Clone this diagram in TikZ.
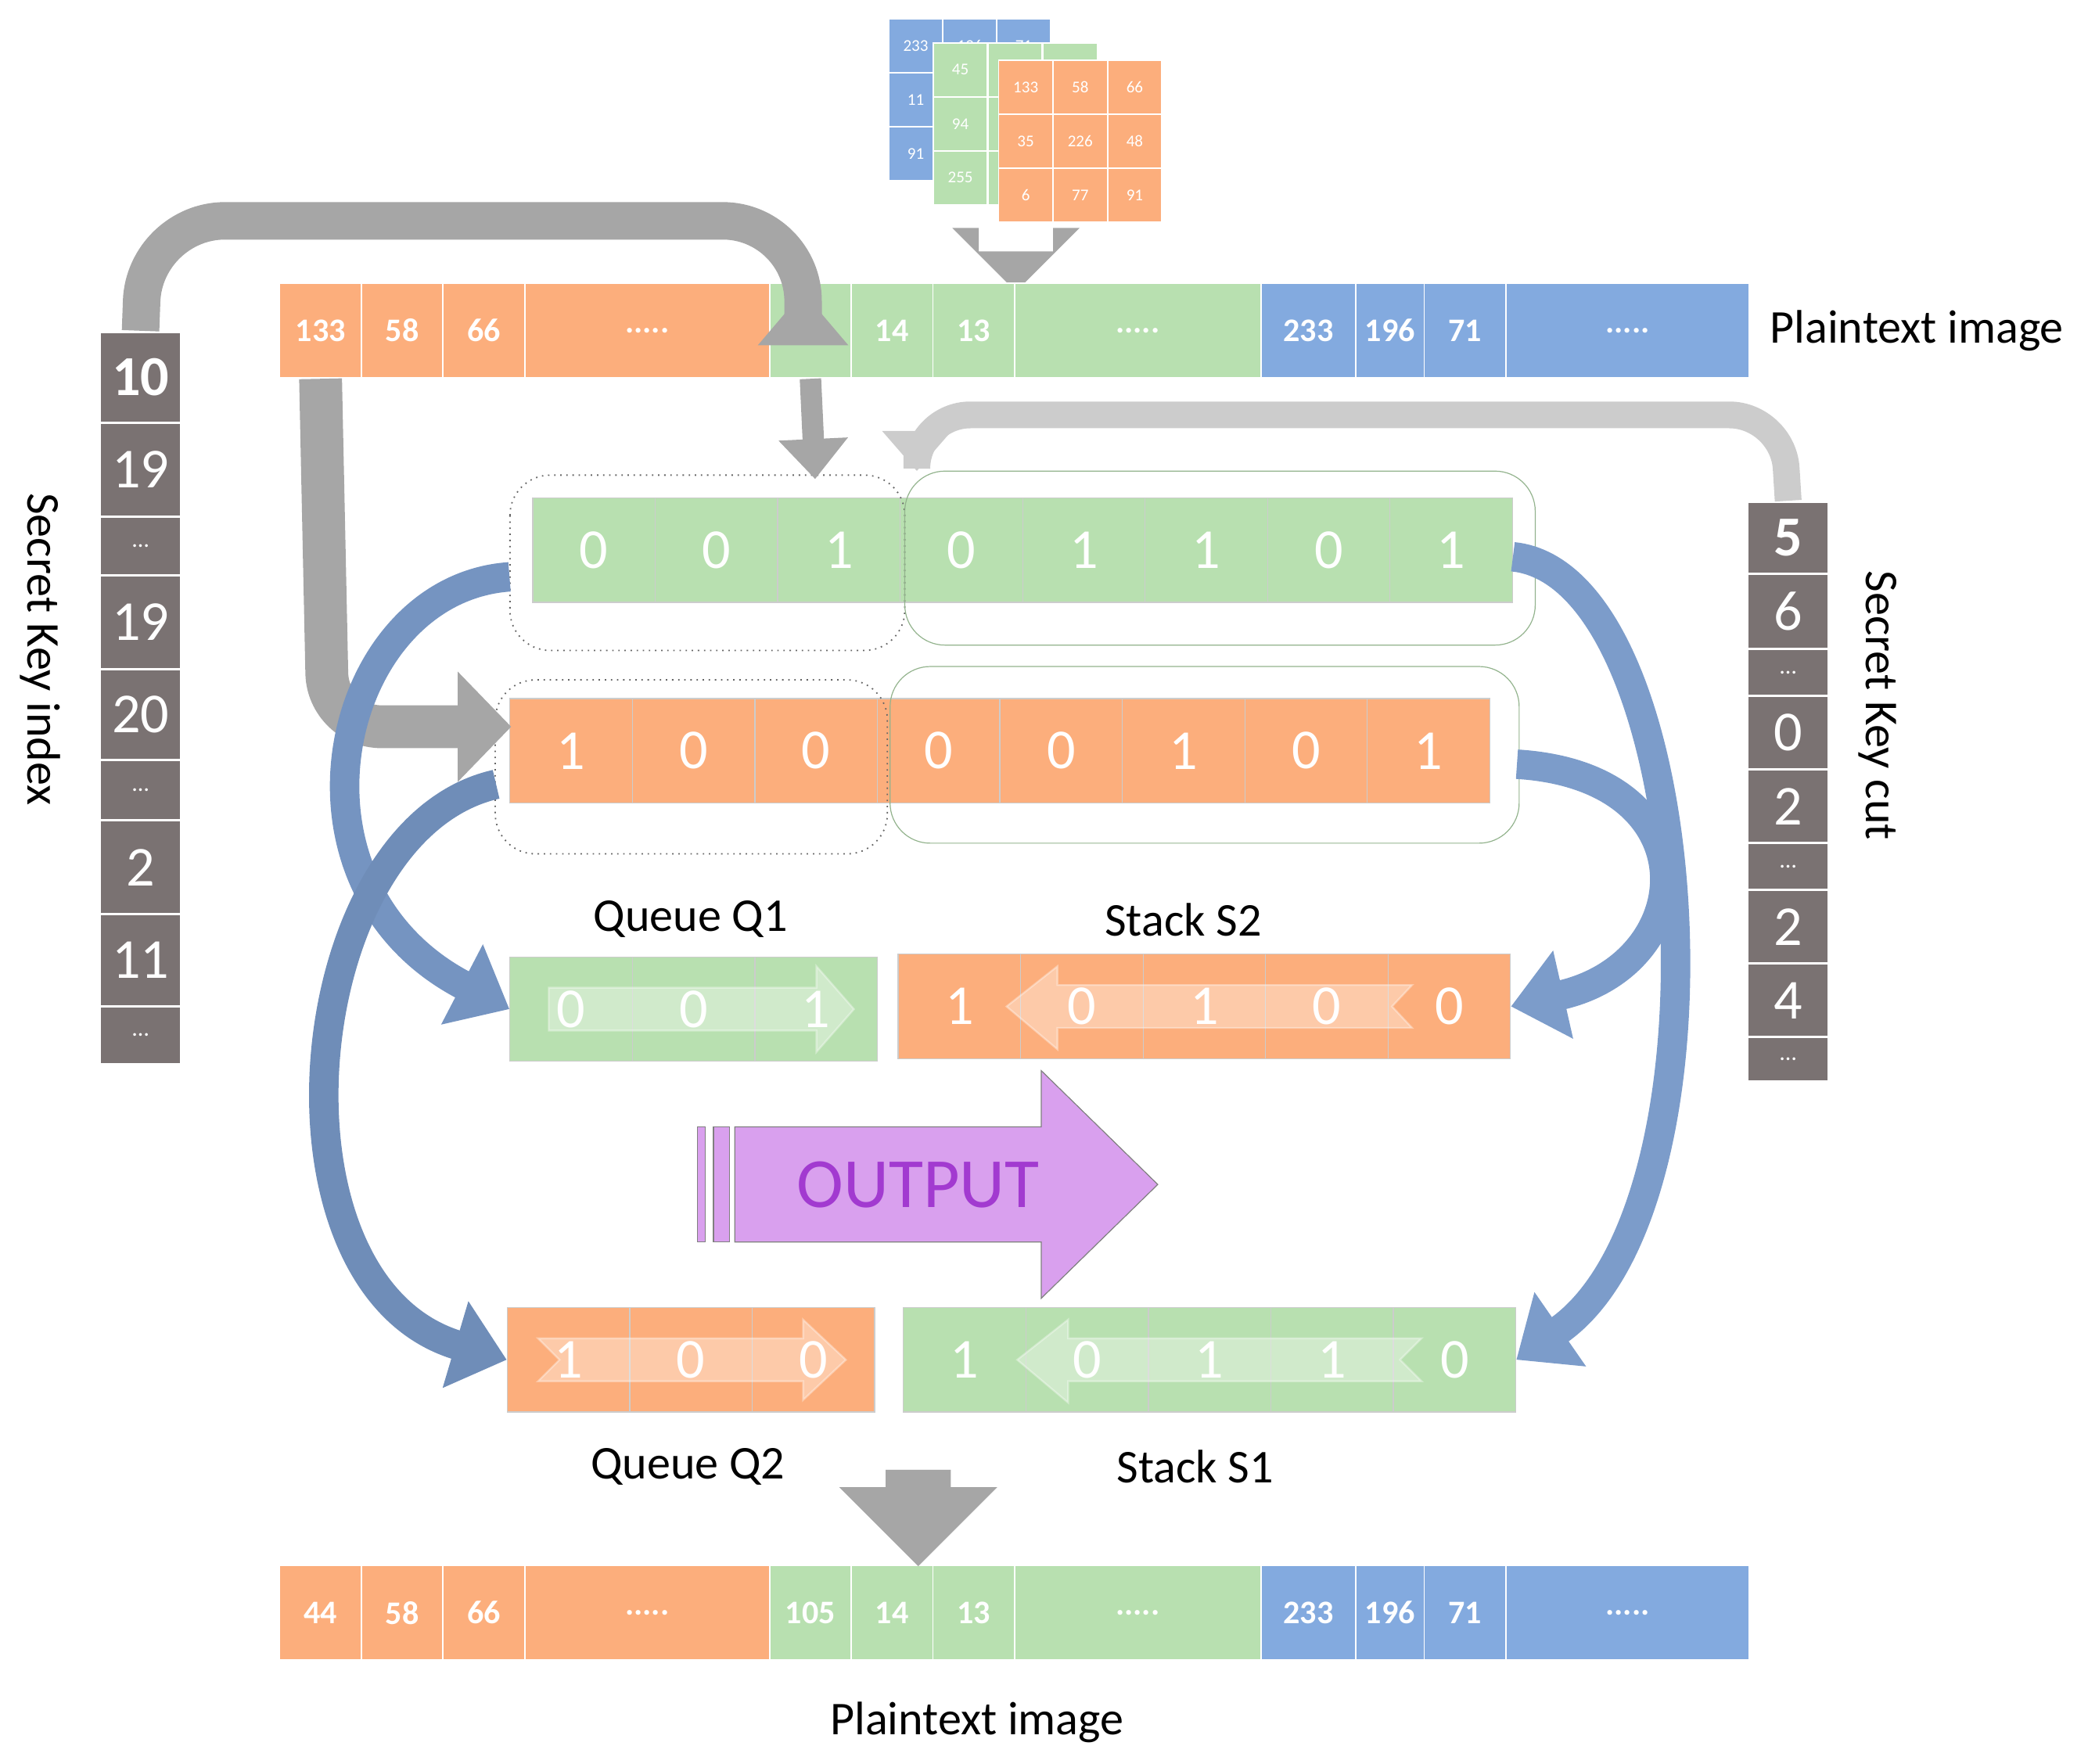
\documentclass[tikz,border=0pt]{standalone}
\usepackage{fontspec}
\setmainfont{Carlito}
\usetikzlibrary{arrows.meta, shapes.arrows}
\definecolor{org}{HTML}{FCAE7C}
\definecolor{grn}{HTML}{B8E0B0}
\definecolor{blu}{HTML}{83AADF}
\definecolor{keyg}{HTML}{7A7272}
\definecolor{arrg}{HTML}{A6A6A6}
\definecolor{darrblue}{HTML}{6F8DB8}
\definecolor{larrblue}{HTML}{8FB2E4}
\definecolor{outv}{HTML}{D9A0EE}
\definecolor{outt}{HTML}{A23AD0}
\newcommand{\fivedots}{.{}.{}.{}.{}.}
\tikzset{
    cell/.style={draw=white, line width=0.3pt, inner sep=0pt, minimum height=7.1mm, text=white, font=\bfseries\scriptsize},
    bit/.style={draw=white!80!black, line width=0.2pt, inner sep=0pt, minimum width=9.15mm, minimum height=7.8mm, text=white, font=\large},
    key/.style={draw=white, line width=0.5pt, fill=keyg, inner sep=0pt, minimum width=6.1mm, text=white, font=\large},
    mat/.style={draw=white, line width=0.3pt, inner sep=0pt, minimum width=4.05mm, minimum height=4.03mm, text=white, font=\fontsize{3.5}{4}\selectfont},
    garrow/.style={draw=arrg, line width=2.8mm, rounded corners=4mm, -{Triangle[length=4mm,width=6.5mm]}},
    barrow/.style={line width=2.2mm, -{Triangle[length=4mm,width=6.5mm]}},
    lbl/.style={font=\normalsize},
    fade/.style={fill=white, opacity=0.35, draw=white}
}
\begin{document}
\begin{tikzpicture}[x=0.1mm, y=-0.1mm]
    \useasboundingbox (0,0) rectangle (1560,1318);
    % image stack at the top
    \foreach \r [count=\j] in {{233,196,71},{11,0,0},{91,0,0}}
        \foreach \v [count=\i] in \r
            \node[mat, fill=blu] (b\j\i) at ({664+40.3*(\i-0.5)},{14+40.3*(\j-0.5)}) {\v};
    \foreach \v [count=\j] in {45,94,255}
        \foreach \i in {1,2,3}
            \node[mat, fill=grn] (gm\j\i) at ({697+41*(\i-0.5)},{32+40.3*(\j-0.5)}) {\ifnum\i=1 \v\fi};
    \foreach \r [count=\j] in {{133,58,66},{35,226,48},{6,77,91}}
        \foreach \v [count=\i] in \r
            \node[mat, fill=org] (om\j\i) at ({746+40.7*(\i-0.5)},{45+40.3*(\j-0.5)}) {\v};
    \node[single arrow, shape border rotate=270, fill=arrg, minimum width=9.5mm, single arrow head extend=0.05mm, minimum height=3mm, inner sep=0pt] (sdown) at (759,189) {};
    % plaintext strips
    \foreach \y/\p/\a/\b in {247/p/133/45, 1205/q/44/105}{
        \foreach \s/\e/\t [count=\k] in {209/270/\a, 270/331/58, 331/392/66, 392/575/\fivedots}
            \node[cell, fill=org, minimum width={(\e-\s)*0.1mm}] (\p o\k) at ({(\s+\e)/2},\y) {\t};
        \foreach \s/\e/\t [count=\k] in {575/636/\b, 636/697/14, 697/758/13, 758/942/\fivedots}
            \node[cell, fill=grn, minimum width={(\e-\s)*0.1mm}] (\p g\k) at ({(\s+\e)/2},\y) {\t};
        \foreach \s/\e/\t [count=\k] in {942/1013/233, 1013/1064/196, 1064/1125/71, 1125/1307/\fivedots}
            \node[cell, fill=blu, minimum width={(\e-\s)*0.1mm}] (\p b\k) at ({(\s+\e)/2},\y) {\t};
    }
    \node[lbl, anchor=west] (ptop) at (1310,247) {Plaintext image};
    \node[lbl] (pbot) at (730,1287) {Plaintext image};
    % secret keys
    \foreach \s/\e/\t [count=\k] in {248/316/\textbf{10}, 316/386/19, 386/430/\tiny\dots, 430/500/19, 500/568/20, 568/613/\tiny\dots, 613/683/2, 683/752/11, 752/795/\tiny\dots}
        \node[key, minimum height={(\e-\s)*0.1mm}] (ki\k) at (105,{(\s+\e)/2}) {\t};
    \foreach \s/\e/\t [count=\k] in {375/429/\textbf{5}, 429/485/6, 485/520/\tiny\dots, 520/575/0, 575/630/2, 630/665/\tiny\dots, 665/720/2, 720/775/4, 775/808/\tiny\dots}
        \node[key, minimum height={(\e-\s)*0.1mm}] (kc\k) at (1336,{(\s+\e)/2}) {\t};
    \node[lbl, rotate=-90] (kil) at (30,485) {Secret Key index};
    \node[lbl, rotate=-90] (kcl) at (1403,527) {Secret Key cut};
    % bit rows
    \foreach \v [count=\i] in {0,0,1,0,1,1,0,1}
        \node[bit, fill=grn] (g\i) at ({398+91.5*(\i-0.5)},411) {\v};
    \foreach \v [count=\i] in {1,0,0,0,0,1,0,1}
        \node[bit, fill=org] (o\i) at ({381+91.5*(\i-0.5)},561) {\v};
    \draw[black!60, line width=0.3pt, densely dotted, rounded corners=3mm] (381,355) rectangle (676,486);
    \draw[grn!80!black, line width=0.2pt, rounded corners=3mm] (676,352) rectangle (1147,482);
    \draw[black!60, line width=0.3pt, densely dotted, rounded corners=3mm] (370,508) rectangle (663,638);
    \draw[grn!80!black, line width=0.2pt, rounded corners=3mm] (665,498) rectangle (1135,630);
    % queues and stacks
    \foreach \v [count=\i] in {0,0,1}
        \node[bit, fill=grn] (qa\i) at ({381+91.5*(\i-0.5)},754) {\v};
    \foreach \v [count=\i] in {1,0,1,0,0}
        \node[bit, fill=org] (sb\i) at ({671+91.5*(\i-0.5)},752) {\v};
    \foreach \v [count=\i] in {1,0,0}
        \node[bit, fill=org] (qb\i) at ({379+91.5*(\i-0.5)},1016) {\v};
    \foreach \v [count=\i] in {1,0,1,1,0}
        \node[bit, fill=grn] (sa\i) at ({675+91.5*(\i-0.5)},1016) {\v};
    \fill[fade] (410,738) -- (610,738) -- (610,722) -- (638,754) -- (610,786) -- (610,770) -- (410,770) -- cycle;
    \fill[fade] (1055,736) -- (790,736) -- (790,722) -- (752,752) -- (790,784) -- (790,768) -- (1055,768) -- (1040,752) -- cycle;
    \fill[fade] (402,1000) -- (600,1000) -- (600,986) -- (632,1016) -- (600,1046) -- (600,1032) -- (402,1032) -- (418,1016) -- cycle;
    \fill[fade] (1062,1000) -- (798,1000) -- (798,986) -- (760,1016) -- (798,1048) -- (798,1032) -- (1062,1032) -- (1046,1016) -- cycle;
    \node[lbl] (lq1) at (516,687) {Queue Q1};
    \node[lbl] (ls2) at (884,687) {Stack S2};
    \node[lbl] (lq2) at (514,1096) {Queue Q2};
    \node[lbl] (ls1) at (893,1096) {Stack S1};
    % output arrow
    \fill[outv, draw=black!50, line width=0.2pt] (521,842) rectangle (527,928);
    \fill[outv, draw=black!50, line width=0.2pt] (533,842) rectangle (545,928);
    \fill[outv, draw=black!50, line width=0.2pt] (549,842) -- (778,842) -- (778,800) -- (865,885) -- (778,970) -- (778,928) -- (549,928) -- cycle;
    \node[font=\fontsize{15}{17}\selectfont, text=outt] (out) at (686,885) {OUTPUT};
    \node[single arrow, shape border rotate=270, fill=arrg, minimum width=11.8mm, single arrow head extend=0.1mm, minimum height=7.2mm, inner sep=0pt] (bdown) at (686,1122) {};
    % gray connectors
    \draw[garrow, rounded corners=6mm] (ki1.north) -- (108,165) -- (600,165) -- (600,218);
    \draw[garrow, line width=3.2mm, -{Triangle[length=4mm,width=8mm]}] (po1.south) -- (245,543) -- (382,543);
    \draw[draw=arrg, line width=1.6mm, -{Triangle[length=3mm,width=5mm]}] (pg1.south) -- (609,358);
    \draw[garrow, draw=black!20, line width=2mm, -{Triangle[length=3mm,width=5mm]}] (kc1.north) -- (1332,310) -- (685,310) -- (685,352);
    % blue connectors
    \draw[barrow, darrblue!80!larrblue] (g1.west) ++(-17,20) .. controls (250,440) and (200,660) .. (qa1.west);
    \draw[barrow, darrblue] (o1.west) ++(-10,25) .. controls (220,620) and (190,960) .. (qb1.west);
    \draw[barrow, darrblue!60!larrblue] (g8.east) ++(0,5) .. controls (1270,430) and (1300,900) .. (sa5.east);
    \draw[barrow, darrblue!60!larrblue] (o8.east) ++(20,10) .. controls (1280,580) and (1270,720) .. (sb5.east);
\end{tikzpicture}
\end{document}
